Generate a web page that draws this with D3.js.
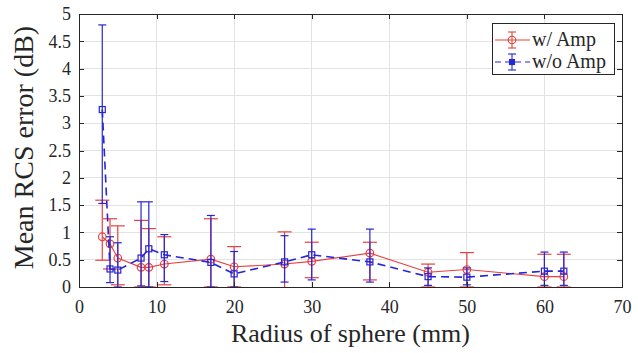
<!DOCTYPE html>
<html lang="en">

<head>
    <meta charset="utf-8">
    <title>Mean RCS error</title>
    <script type="text/javascript" src="https://d3js.org/d3.v7.min.js"></script>
    <style type="text/css">
        body {
            margin: 0;
            background: white;
        }

        .axis path,
        .axis line {
            fill: none;
            stroke: #262626;
            shape-rendering: crispEdges;
        }
    </style>
</head>

<body>
    <script type="text/javascript">

        // data
        var radius = [3, 4, 5, 8, 9, 11, 17, 20, 26.5, 30, 37.5, 45, 50, 60, 62.5];

        var ampMean = [0.92, 0.79, 0.53, 0.36, 0.36, 0.42, 0.51, 0.37, 0.42, 0.47, 0.62, 0.27, 0.32, 0.19, 0.19];
        var ampUpper = [1.59, 1.25, 1.12, 1.22, 1.07, 0.92, 1.25, 0.74, 1.01, 0.82, 0.82, 0.42, 0.63, 0.60, 0.60];
        var ampLower = [0.49, 0.33, 0.04, 0.0, 0.0, 0.04, 0.0, 0.0, -0.17, 0.17, 0.13, 0.0, 0.0, 0.0, 0.0];

        var noAmpMean = [3.25, 0.33, 0.31, 0.53, 0.70, 0.59, 0.45, 0.24, 0.46, 0.59, 0.46, 0.19, 0.18, 0.29, 0.29];
        var noAmpUpper = [4.80, 0.92, 0.81, 1.56, 1.56, 0.96, 1.31, 0.65, 0.94, 1.06, 1.06, 0.35, 0.35, 0.64, 0.64];
        var noAmpLower = [1.53, 0.08, 0.0, 0.02, 0.0, 0.10, 0.0, 0.0, 0.09, 0.13, 0.09, 0.03, 0.04, 0.03, 0.03];

        var xTicks = [0, 10, 20, 30, 40, 50, 60, 70];
        var yTicks = [0, 0.5, 1, 1.5, 2, 2.5, 3, 3.5, 4, 4.5, 5];

        var xLabel = "Radius of sphere (mm)";
        var yLabel = "Mean RCS error (dB)";
        var seriesNames = ["w/ Amp", "w/o Amp"];

        // global constants
        var margin = {
            top: 14,
            right: 16,
            bottom: 66,
            left: 79
        };
        var w = 638 - margin.left - margin.right;
        var h = 353 - margin.top - margin.bottom;
        var red = "#e8403f";
        var blue = "#2626d4";
        var serif = "'Times New Roman'";
        var ink = "#262626";

        var svg = d3.select("body")
            .append("svg")
            .attr("width", 638)
            .attr("height", 353)
            .append("g")
            .attr("transform", "translate(" + margin.left + "," + margin.top + ")");

        // scales
        var xScale = d3.scaleLinear().domain([0, 70]).range([0, w]);
        var yScale = d3.scaleLinear().domain([0, 5]).range([h, 0]);

        // clip for error bars that go below zero
        svg.append("clipPath")
            .attr("id", "plotclip")
            .append("rect")
            .attr("width", w)
            .attr("height", h);

        // grid lines
        var grid = svg.append("g").attr("class", "grid");

        grid.selectAll(null)
            .data(xTicks.slice(1, -1))
            .enter()
            .append("line")
            .attr("x1", function (d) { return xScale(d); })
            .attr("x2", function (d) { return xScale(d); })
            .attr("y1", 0)
            .attr("y2", h)
            .attr("stroke", "#e3e3e3")
            .attr("shape-rendering", "crispEdges");

        grid.selectAll(null)
            .data(yTicks.slice(1, -1))
            .enter()
            .append("line")
            .attr("x1", 0)
            .attr("x2", w)
            .attr("y1", function (d) { return yScale(d); })
            .attr("y2", function (d) { return yScale(d); })
            .attr("stroke", "#e3e3e3")
            .attr("shape-rendering", "crispEdges");

        // one series: line, error bars, markers
        function drawSeries(mean, lower, upper, color, dash, capW, marker) {
            var g = svg.append("g").attr("clip-path", "url(#plotclip)");
            var pts = radius.map(function (r, i) {
                return { x: r, y: mean[i], lo: lower[i], hi: upper[i] };
            });

            var line = d3.line()
                .x(function (d) { return xScale(d.x); })
                .y(function (d) { return yScale(d.y); });

            g.append("path")
                .datum(pts)
                .attr("d", line)
                .attr("fill", "none")
                .attr("stroke", color)
                .attr("stroke-width", dash ? 1.6 : 1.1)
                .attr("stroke-dasharray", dash ? "8,5" : null);

            var bars = g.selectAll(null)
                .data(pts)
                .enter()
                .append("g")
                .attr("stroke", color)
                .attr("stroke-width", 1.2);

            bars.append("line")
                .attr("x1", function (d) { return xScale(d.x); })
                .attr("x2", function (d) { return xScale(d.x); })
                .attr("y1", function (d) { return yScale(d.lo); })
                .attr("y2", function (d) { return yScale(d.hi); });

            bars.append("line")
                .attr("x1", function (d) { return xScale(d.x) - capW; })
                .attr("x2", function (d) { return xScale(d.x) + capW; })
                .attr("y1", function (d) { return yScale(d.hi); })
                .attr("y2", function (d) { return yScale(d.hi); });

            bars.append("line")
                .attr("x1", function (d) { return xScale(d.x) - capW; })
                .attr("x2", function (d) { return xScale(d.x) + capW; })
                .attr("y1", function (d) { return yScale(d.lo); })
                .attr("y2", function (d) { return yScale(d.lo); });

            if (marker === "circle") {
                g.selectAll(null)
                    .data(pts)
                    .enter()
                    .append("circle")
                    .attr("cx", function (d) { return xScale(d.x); })
                    .attr("cy", function (d) { return yScale(d.y); })
                    .attr("r", 3.8)
                    .attr("fill", "none")
                    .attr("stroke", color)
                    .attr("stroke-width", 1.2);
            } else {
                g.selectAll(null)
                    .data(pts)
                    .enter()
                    .append("rect")
                    .attr("x", function (d) { return xScale(d.x) - 3; })
                    .attr("y", function (d) { return yScale(d.y) - 3; })
                    .attr("width", 6)
                    .attr("height", 6)
                    .attr("fill", "none")
                    .attr("stroke", color)
                    .attr("stroke-width", 1.2);
            }
        }

        drawSeries(ampMean, ampLower, ampUpper, red, false, 7, "circle");
        drawSeries(noAmpMean, noAmpLower, noAmpUpper, blue, true, 4, "square");

        // axes with inward ticks on all four sides
        var xAxis = d3.axisBottom(xScale).tickValues(xTicks).tickSize(-5).tickPadding(13);
        var yAxis = d3.axisLeft(yScale).tickValues(yTicks).tickSize(-5).tickPadding(8)
            .tickFormat(function (d) { return String(d); });

        function styleTicks(g) {
            g.select(".domain").remove();
            g.attr("font-family", null).attr("font-size", null);
            g.selectAll("text")
                .style("font-family", serif)
                .style("font-size", "18px")
                .style("fill", ink);
        }

        svg.append("g")
            .attr("class", "axis")
            .attr("transform", "translate(0," + h + ")")
            .call(xAxis)
            .call(styleTicks);

        svg.append("g")
            .attr("class", "axis")
            .call(yAxis)
            .call(styleTicks);

        svg.append("g")
            .attr("class", "axis")
            .call(d3.axisTop(xScale).tickValues(xTicks).tickSize(-5).tickFormat(""))
            .call(function (g) { g.select(".domain").remove(); });

        svg.append("g")
            .attr("class", "axis")
            .attr("transform", "translate(" + w + ",0)")
            .call(d3.axisRight(yScale).tickValues(yTicks).tickSize(-5).tickFormat(""))
            .call(function (g) { g.select(".domain").remove(); });

        // box
        svg.append("rect")
            .attr("width", w)
            .attr("height", h)
            .attr("fill", "none")
            .attr("stroke", ink)
            .attr("shape-rendering", "crispEdges");

        // axis titles
        svg.append("text")
            .attr("x", w / 2)
            .attr("y", h + 55)
            .style("font-family", serif)
            .style("font-size", "26px")
            .style("fill", ink)
            .style("text-anchor", "middle")
            .text(xLabel);

        svg.append("text")
            .attr("transform", "rotate(-90)")
            .attr("x", -h / 2 + 3)
            .attr("y", -46)
            .style("font-family", serif)
            .style("font-size", "28px")
            .style("fill", ink)
            .style("text-anchor", "middle")
            .text(yLabel);

        // legend
        var legend = svg.append("g")
            .attr("transform", "translate(" + (492 - margin.left) + "," + (23 - margin.top) + ")");

        legend.append("rect")
            .attr("width", 122)
            .attr("height", 51)
            .attr("fill", "white")
            .attr("stroke", ink)
            .attr("shape-rendering", "crispEdges");

        var entries = [
            { name: seriesNames[0], color: red, dash: false, marker: "circle" },
            { name: seriesNames[1], color: blue, dash: true, marker: "square" }
        ];

        entries.forEach(function (e, i) {
            var y = 17 + i * 22;
            var item = legend.append("g").attr("stroke", e.color).attr("stroke-width", 1.1);
            item.append("line")
                .attr("x1", 3).attr("x2", 38)
                .attr("y1", y).attr("y2", y)
                .attr("stroke-dasharray", e.dash ? "6,4" : null);
            item.append("line")
                .attr("x1", 20).attr("x2", 20)
                .attr("y1", y - 8).attr("y2", y + 8);
            item.append("line")
                .attr("x1", 16).attr("x2", 24)
                .attr("y1", y - 8).attr("y2", y - 8);
            item.append("line")
                .attr("x1", 16).attr("x2", 24)
                .attr("y1", y + 8).attr("y2", y + 8);
            if (e.marker === "circle") {
                item.append("circle")
                    .attr("cx", 20).attr("cy", y).attr("r", 3.8)
                    .attr("fill", "none");
            } else {
                item.append("rect")
                    .attr("x", 17.5).attr("y", y - 2.5)
                    .attr("width", 5).attr("height", 5)
                    .attr("fill", e.color);
            }
            legend.append("text")
                .attr("x", 40)
                .attr("y", y + 6)
                .style("font-family", serif)
                .style("font-size", "20px")
                .style("fill", ink)
                .text(e.name);
        });
    </script>
</body>
</html>
